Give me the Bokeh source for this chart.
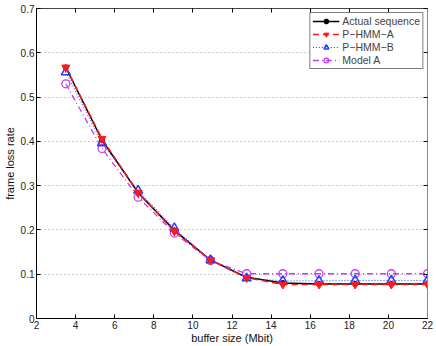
from bokeh.plotting import figure
from bokeh.models import FixedTicker, LinearAxis, Legend, LegendItem
from bokeh.embed import file_html
from bokeh.resources import INLINE

# ---- data ----
buffer_size = [3.5, 5.35, 7.2, 9.05, 10.9, 12.75, 14.6, 16.45, 18.3, 20.15, 22.0]
actual_seq = [0.567, 0.403, 0.284, 0.199, 0.132, 0.093, 0.080, 0.078, 0.078, 0.078, 0.078]
phmm_a = [0.567, 0.406, 0.284, 0.197, 0.132, 0.092, 0.077, 0.077, 0.077, 0.077, 0.077]
phmm_b = [0.556, 0.396, 0.289, 0.204, 0.132, 0.091, 0.085, 0.085, 0.086, 0.086, 0.086]
model_a = [0.530, 0.384, 0.274, 0.193, 0.131, 0.101, 0.101, 0.101, 0.101, 0.101, 0.101]

x_ticks = [2, 4, 6, 8, 10, 12, 14, 16, 18, 20, 22]
y_ticks = [0, 0.1, 0.2, 0.3, 0.4, 0.5, 0.6, 0.7]
y_tick_labels = ["0", "0.1", "0.2", "0.3", "0.4", "0.5", "0.6", "0.7"]

FONT = "Liberation Sans"

p = figure(width=436, height=346, x_range=(2, 22), y_range=(0, 0.7),
           output_backend="svg", toolbar_location=None,
           min_border_left=0, min_border_right=9, min_border_top=8, min_border_bottom=0)
p.background_fill_color = "white"
p.border_fill_color = "white"
p.outline_line_color = "#444444"
p.outline_line_width = 1

# axes
for ax in (p.xaxis[0], p.yaxis[0]):
    ax.major_tick_in = 4
    ax.major_tick_out = 0
    ax.minor_tick_in = 0
    ax.minor_tick_out = 0
    ax.major_label_text_font = FONT
    ax.major_label_text_font_size = "10px"
    ax.major_label_text_color = "#222222"
    ax.axis_label_text_font = FONT
    ax.axis_label_text_font_size = "11px"
    ax.axis_label_text_font_style = "normal"
    ax.axis_label_text_color = "#111111"
    ax.axis_line_color = "black"
    ax.major_tick_line_color = "black"

p.xaxis.ticker = FixedTicker(ticks=x_ticks)
p.yaxis.ticker = FixedTicker(ticks=y_ticks)
p.yaxis.major_label_overrides = {t: l for t, l in zip(y_ticks, y_tick_labels)}
p.xaxis.axis_label = "buffer size (Mbit)"
p.yaxis.axis_label = "frame loss rate"
p.xaxis.major_label_standoff = 2
p.yaxis.major_label_standoff = 2
p.xaxis.axis_label_standoff = 0
p.yaxis.axis_label_standoff = 2

# top and right tick-only axes (ticks drawn as unlabeled minor ticks)
top = LinearAxis(ticker=FixedTicker(ticks=[], minor_ticks=x_ticks),
                 major_tick_in=0, major_tick_out=0, minor_tick_in=4, minor_tick_out=0,
                 minor_tick_line_color="black", major_label_standoff=0,
                 axis_line_color="#444444")
right = LinearAxis(ticker=FixedTicker(ticks=[], minor_ticks=y_ticks),
                   major_tick_in=0, major_tick_out=0, minor_tick_in=4, minor_tick_out=0,
                   minor_tick_line_color="black", major_label_standoff=0,
                   axis_line_color="#888888")
p.add_layout(top, "above")
p.add_layout(right, "right")

# grid: horizontal dotted only
p.xgrid.grid_line_color = None
p.ygrid.grid_line_color = "#9a9a9a"
p.ygrid.grid_line_dash = "1 3"
p.ygrid.grid_line_width = 1

# series
MAG = "#c040f0"
BLUE = "#2040ff"
RED = "#ff1a1a"

l1 = p.line(buffer_size, actual_seq, line_color="black", line_width=1.5)
m1 = p.scatter(buffer_size, actual_seq, marker="circle", size=5, fill_color="black", line_color="black")

l4 = p.line(buffer_size, model_a, line_color=MAG, line_width=1.3, line_dash="6 3 1 3")
m4 = p.scatter(buffer_size, model_a, marker="circle", size=8, fill_color=None, line_color=MAG, line_width=1.3)

l3 = p.line(buffer_size, phmm_b, line_color=BLUE, line_width=1, line_dash="1 2")
m3 = p.scatter(buffer_size, phmm_b, marker="triangle", size=9, fill_color=None, line_color=BLUE, line_width=1.5)

l2 = p.line(buffer_size, phmm_a, line_color=RED, line_width=1.5, line_dash="6 4")
m2 = p.scatter(buffer_size, phmm_a, marker="inverted_triangle", size=8, fill_color=RED, line_color=RED)

legend = Legend(items=[
    LegendItem(label="Actual sequence", renderers=[l1, m1]),
    LegendItem(label="P\u2212HMM\u2212A", renderers=[l2, m2]),
    LegendItem(label="P\u2212HMM\u2212B", renderers=[l3, m3]),
    LegendItem(label="Model A", renderers=[l4, m4]),
], location="top_right")
legend.label_text_font = FONT
legend.label_text_font_size = "10.5px"
legend.label_height = 12
legend.glyph_height = 12
legend.glyph_width = 27
legend.label_standoff = 3
legend.spacing = 1
legend.padding = 2
legend.margin = 4
legend.border_line_color = "black"
legend.border_line_width = 1
legend.background_fill_alpha = 1
p.add_layout(legend, "center")

open("out.html", "w").write(file_html(p, INLINE))
